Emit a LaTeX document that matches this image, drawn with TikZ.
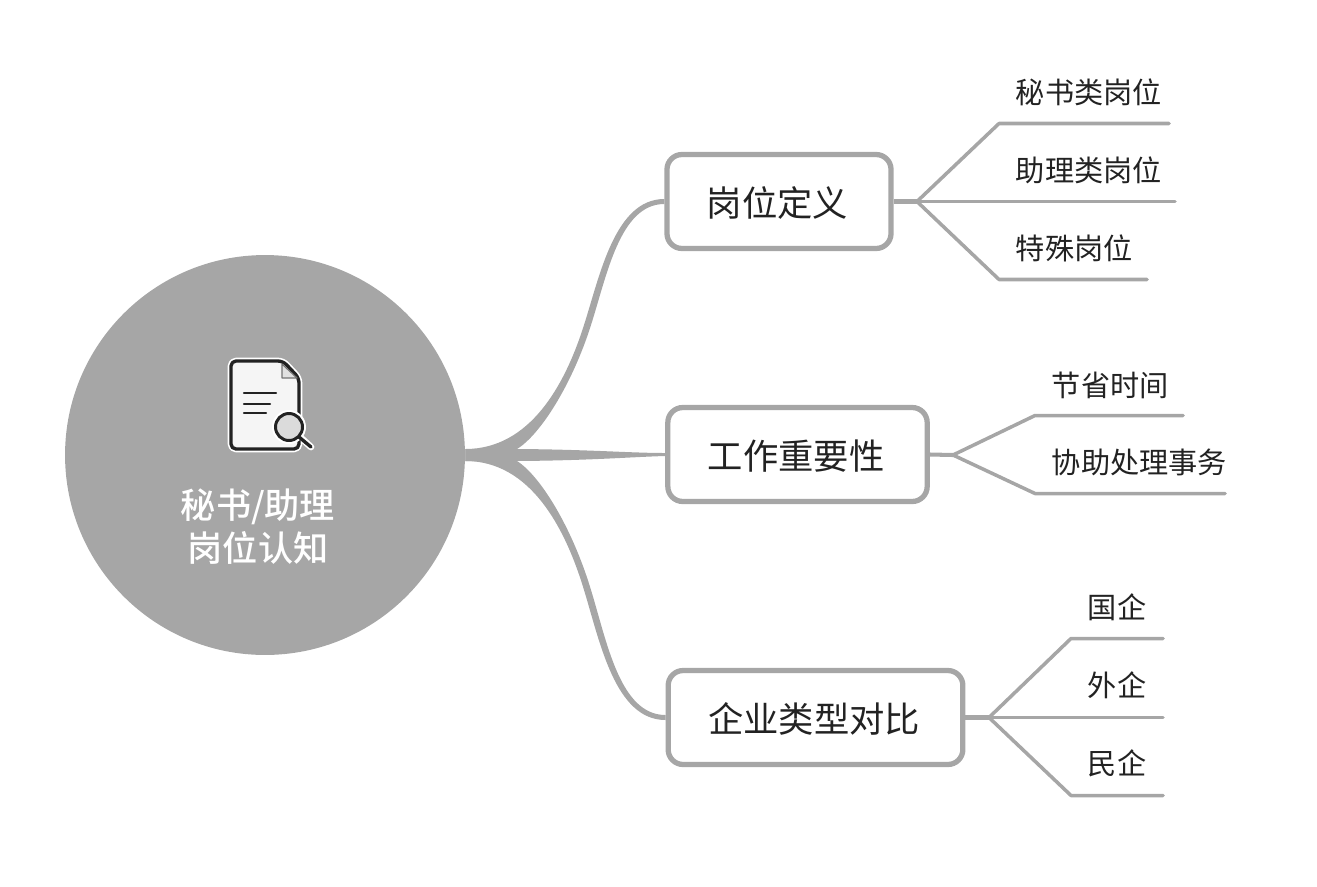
\documentclass[tikz,border=0pt]{standalone}
\usepackage{fontspec}
\setmainfont{Noto Sans CJK SC}
\newfontfamily\titlefont{Noto Sans CJK SC Medium}
\definecolor{mapgray}{HTML}{A6A6A6}
\definecolor{inkdark}{HTML}{222222}
\tikzset{
  topicbox/.style={draw=mapgray,line width=3pt,rounded corners=0.3cm,fill=white,text=inkdark,
    font=\fontsize{20.1}{24}\selectfont,inner xsep=0.8cm,inner ysep=0pt,text height=19.5pt,text depth=2pt,minimum height=1.88cm,
    execute at end node={\kern1.6pt}},
  subtext/.style={anchor=west,inner sep=0pt,text=inkdark,font=\fontsize{16.6}{20}\selectfont},
  subline/.style={draw=mapgray,line width=2pt,line cap=round,line join=round},
  stubline/.style={draw=mapgray,line width=2.3pt},
  iconline/.style={draw=inkdark,line width=1.4pt,line cap=round,line join=round}
}
\begin{document}
\begin{tikzpicture}[x=0.02cm,y=-0.02cm]
 \useasboundingbox (0,0) rectangle (1317,886);
 % centre and topics
 \node[circle,fill=mapgray,inner sep=0pt,minimum size=8cm] (root) at (265,455) {};
 \node[topicbox] (def) at (779,201.5) {岗位定义};
 \node[topicbox] (imp) at (797.5,454.5) {工作重要性};
 \node[topicbox] (typ) at (815.5,717.5) {企业类型对比};
 \node[align=center,inner sep=0pt,text=white,font=\fontsize{20}{24.4}\selectfont\titlefont] (title) at (258,527) {秘书/助理\\岗位认知};
 % tapered branches
 \fill[mapgray] ([yshift=0.12cm]root.east) .. controls (530,449) and (565,385) .. (584,325) .. controls (600,275) and (615,199) .. ([yshift=0.05cm]def.west)
   -- ([yshift=-0.05cm]def.west) .. controls (620,204) and (607,275) .. (591,325) .. controls (572,385) and (540,435) .. (517,449) -- (root.east) -- cycle;
 \fill[mapgray] ([yshift=0.12cm]root.east) -- (517,449) .. controls (590,449.5) and (630,453) .. ([yshift=0.03cm]imp.west)
   -- ([yshift=-0.03cm]imp.west) .. controls (630,457) and (590,460.5) .. (517,461) -- ([yshift=-0.12cm]root.east) -- cycle;
 \fill[mapgray] ([yshift=-0.12cm]root.east) .. controls (530,461) and (565,527) .. (584,590) .. controls (600,642) and (615,720) .. ([yshift=-0.05cm]typ.west)
   -- ([yshift=0.05cm]typ.west) .. controls (620,715) and (607,642) .. (591,590) .. controls (572,527) and (540,475.5) .. (517,461) -- (root.east) -- cycle;
 % first group
 \coordinate (defj) at (917,201.5);
 \draw[stubline] (def.east) -- (defj);
 \node[subtext] (defa) at (1015.5,92) {秘书类岗位};
 \node[subtext] (defb) at (1015.5,170) {助理类岗位};
 \node[subtext] (defc) at (1015.5,248) {特殊岗位};
 \coordinate (defa1) at (999,123.5); \coordinate (defa2) at (1169,123.5);
 \coordinate (defb1) at (999,201.5); \coordinate (defb2) at (1175,201.5);
 \coordinate (defc1) at (999,279.5); \coordinate (defc2) at (1147,279.5);
 \draw[subline] (defj) -- (defa1) -- (defa2);
 \draw[subline] (defj) -- (defb1) -- (defb2);
 \draw[subline] (defj) -- (defc1) -- (defc2);
 % second group
 \coordinate (impj) at (953,455);
 \draw[stubline] (imp.east) -- (impj);
 \node[subtext] (impa) at (1051.5,385) {节省时间};
 \node[subtext] (impb) at (1051.5,462) {协助处理事务};
 \coordinate (impa1) at (1035,415.5); \coordinate (impa2) at (1183,415.5);
 \coordinate (impb1) at (1035,493.5); \coordinate (impb2) at (1225,493.5);
 \draw[subline] (impj) -- (impa1) -- (impa2);
 \draw[subline] (impj) -- (impb1) -- (impb2);
 % third group
 \coordinate (typj) at (989,717.5);
 \draw[stubline] (typ.east) -- (typj);
 \node[subtext] (typa) at (1087.5,607.5) {国企};
 \node[subtext] (typb) at (1087.5,685.5) {外企};
 \node[subtext] (typc) at (1087.5,763.5) {民企};
 \coordinate (typa1) at (1071,638.5); \coordinate (typa2) at (1163,638.5);
 \coordinate (typb1) at (1071,717.5); \coordinate (typb2) at (1163,717.5);
 \coordinate (typc1) at (1071,795.5); \coordinate (typc2) at (1163,795.5);
 \draw[subline] (typj) -- (typa1) -- (typa2);
 \draw[subline] (typj) -- (typb1) -- (typb2);
 \draw[subline] (typj) -- (typc1) -- (typc2);
 % document icon
 \draw[white,line width=3.8pt,line join=round,rounded corners=0.1cm] (231,361) -- (283,361) -- (299,378) -- (299,449) -- (231,449) -- cycle;
 \draw[white,line width=3.8pt,line cap=round] (300,437) -- (311,447);
 \draw[iconline,line width=1.9pt,fill=black!4,rounded corners=0.1cm] (231,361) -- (283,361) -- (299,378) -- (299,449) -- (231,449) -- cycle;
 \draw[line width=0.7pt,draw=black!55,fill=black!12,line join=round] (282,364) -- (282,378) -- (297,378) -- cycle;
 \draw[iconline] (244,393) -- (276,393);
 \draw[iconline] (244,404) -- (270,404);
 \draw[iconline] (244,413) -- (266,413);
 \fill[white] (289,427) circle (0.34cm);
 \draw[iconline,line width=1.9pt] (299,437) -- (311,447);
 \draw[iconline,line width=1.7pt,fill=black!14] (289,427) circle (0.27cm);
\end{tikzpicture}
\end{document}
